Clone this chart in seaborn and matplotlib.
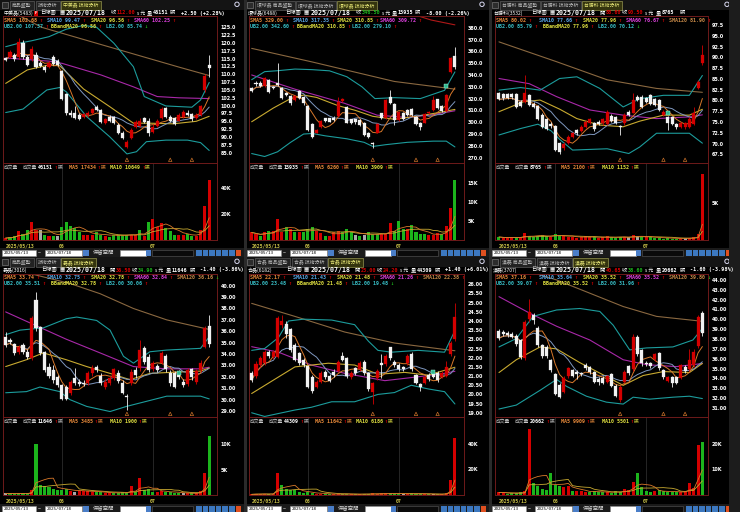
import numpy as np
import pandas as pd
import matplotlib
matplotlib.use("Agg")
import matplotlib.pyplot as plt
from matplotlib.patches import Rectangle, Circle
import seaborn as sns

sns.set_theme(style="dark")
plt.rcParams["font.family"] = ["Noto Sans CJK TC", "DejaVu Sans"]
plt.rcParams["axes.unicode_minus"] = False

CJK = ["Noto Sans CJK TC", "DejaVu Sans"]
MONO = ["DejaVu Sans Mono", "Noto Sans CJK TC"]

# ---------------- data ----------------
days = pd.bdate_range("2025-05-13", "2025-07-18").drop(pd.Timestamp("2025-05-30"))
event_idx = [28, 38, 43]

names = ["中美晶", "環球晶", "台勝科", "嘉晶", "合晶", "漢磊"]
codes = ["5483", "6488", "3532", "3016", "6182", "3707"]
open_txt = [None, None, "88.60", "36.50", "23.00", "40.65"]
close_txt = ["112.00", "346.50", "90.50", "34.90", "24.20", "38.60"]
close_up = [True, False, True, False, True, False]
vol_txt = ["46151", "15935", "8765", "11646", "44309", "20662"]
chg_txt = ["+2.50 (+2.28%)", "-8.00 (-2.26%)", "", "-1.40 (-3.86%)", "+1.40 (+6.01%)", "-1.60 (-3.98%)"]

sma5_txt = ["102.68", "329.00", "80.02", "33.74", "22.17", "37.16"]
sma10_txt = ["99.47", "317.35", "77.66", "32.75", "21.43", "35.64"]
sma20_txt = ["96.56", "310.85", "77.96", "32.78", "21.48", "35.52"]
sma60_txt = ["102.25", "309.72", "76.67", "32.84", "21.26", "35.52"]
sma120_txt = [None, None, "81.90", "36.16", "22.38", "39.80"]
sma120_up = [True, True, True, False, True, False]
ub_txt = ["107.37", "342.60", "85.79", "35.51", "23.48", "39.07"]
lb_txt = ["85.74", "279.10", "70.12", "30.06", "19.48", "31.96"]
lb_up = [False, True, False, True, False, True]
vma5_txt = ["17434", "6260", "2100", "3485", "11642", "9909"]
vma10_txt = ["10649", "3909", "1152", "1900", "6186", "5501"]

# highlighted signal bars (index, price) per panel
signal_pts = [[], [(45, 330.6)], [(39, 77.2)], [(40, 32.3)], [(42, 21.2)], []]

price_lim = [(81.7, 128.6), (265.5, 389.9), (65.5, 99.6), (28.47, 41.03), (18.77, 26.56), (30.09, 44.6)]
price_ticks = [np.arange(85, 125.1, 2.5), np.arange(270, 380.1, 10), np.arange(67.5, 97.6, 2.5),
               np.arange(29, 40.1, 1), np.arange(19, 26.01, 0.5), np.arange(31, 44.1, 1)]
price_fmt = ["%.1f", "%.1f", "%.1f", "%.2f", "%.2f", "%.2f"]
vol_max = [59600, 20400, 10300, 15300, 61000, 30400]
vol_ticks = [[20000, 40000], [5000, 10000, 15000], [5000], [5000, 10000], [20000, 40000], [10000, 20000]]

# 中美晶
p1_open = [115.1,115.6,116.2,115.6,120.1,115.6,114.8,116.2,113.7,112.4,112.4,115.4,114.3,111.1,103.6,97.8,97.8,97.0,96.3,96.9,97.6,99.5,98.6,94.6,96.5,96.3,93.8,91.4,86.9,89.6,93.3,93.5,96.0,95.2,91.7,93.5,96.0,99.1,96.5,96.0,95.2,96.5,97.8,97.2,95.9,97.0,105.0,113.0]
p1_high = [115.5,117.8,116.8,121.5,121.0,116.0,119.0,117.0,114.2,113.0,114.3,116.0,115.0,111.5,104.0,98.5,100.0,97.5,97.6,98.3,99.4,100.2,99.0,96.0,97.0,96.6,94.5,91.8,89.0,92.8,95.5,96.0,96.5,96.0,94.0,95.8,99.6,99.6,97.0,96.4,97.5,98.6,98.5,97.6,97.5,100.3,110.0,116.3]
p1_low = [114.2,115.2,114.3,115.0,115.0,112.5,114.3,112.0,112.2,110.8,112.0,113.0,112.6,101.8,97.0,96.5,95.8,95.3,96.0,96.5,97.3,98.2,94.6,94.2,94.8,94.0,91.0,89.3,86.5,89.3,93.0,93.2,94.5,90.2,91.3,93.2,95.7,96.2,94.8,93.8,95.0,96.2,96.6,95.2,95.6,96.8,104.5,109.0]
p1_close = [114.6,117.2,114.8,120.4,115.6,113.0,118.0,112.4,112.7,111.4,113.7,113.3,113.0,102.1,97.6,97.0,96.0,95.7,97.2,97.8,98.8,98.6,94.9,95.6,95.2,94.4,91.4,89.7,88.5,92.2,94.9,95.2,94.9,91.4,93.3,95.2,98.8,96.5,95.2,94.1,97.0,98.1,97.0,95.6,97.0,99.9,109.5,112.0]
p1_vol = [1500,2000,3000,7000,5000,8000,14000,8000,8000,4000,3000,3000,3000,10000,14000,11000,9000,6000,4000,4000,4000,6000,4000,3000,2000,4000,4000,4000,4000,4000,4000,8000,3000,14000,16000,10000,13000,9000,7000,4000,4000,4000,5000,3000,3000,8000,26000,46151]
p1_vdir = "rggrggrr" "wgrgwggg" "ggrrrggr" "gggggrrg" "rgrrrggg" "rrggrrrr"
p1_ub = [(0,118.8),(3,119.9),(6,120.7),(10,122.0),(14,124.4),(18,125.6),(21,125.0),(25,119.9),(29.5,112.4),(32,102.9),(37,99.9),(43,99.5),(45,101.8),(47,107.4)]
p1_lb = [(0,97.8),(4,98.9),(9.5,105.0),(12.5,105.8),(14,104.4),(18.7,96.5),(24,90.1),(28,84.6),(30.2,85.3),(32.5,88.5),(37,89.0),(42,89.0),(45,88.2),(47,85.7)]
p1_ma20 = [(0,107.1),(5,111.4),(10,113.0),(12.5,112.7),(18,105.3),(24,99.7),(29.5,94.4),(33.3,94.4),(38.7,94.2),(44,95.0),(47,96.6)]
p1_ma60 = [(0,115.2),(10,114.2),(13,113.5),(22,109.8),(29.5,106.0),(35,102.9),(40,102.5),(47,102.25)]
p1_ma120 = [(0,131.0),(8.3,125.0),(20,120.3),(30,116.3),(40,112.3),(47,109.6)]

# 環球晶
p2_open = [328.7,333.5,333.5,330.6,335.7,330.0,333.5,328.7,325.0,322.2,318.8,326.7,321.6,313.7,298.5,291.1,296.2,303.3,303.3,304.0,305.2,318.2,312.6,302.4,302.4,301.9,299.0,290.6,282.6,291.1,307.5,303.3,321.6,315.4,301.9,308.1,310.3,310.9,304.7,299.6,299.6,307.5,310.3,319.3,313.7,309.8,342.8,356.0]
p2_high = [330.0,334.5,335.0,338.0,337.0,331.0,349.8,330.0,326.0,323.0,323.0,327.5,322.5,314.5,299.5,294.5,302.0,304.0,304.0,305.0,321.7,320.5,313.5,303.0,303.0,302.5,300.0,291.5,283.5,299.5,308.0,320.0,327.2,316.0,309.5,309.0,311.0,312.0,305.5,300.5,308.0,309.5,322.0,320.0,314.5,324.0,355.0,363.4]
p2_low = [325.5,331.0,330.0,330.0,325.0,328.0,330.5,319.5,322.0,315.0,318.0,319.5,315.0,292.5,287.0,290.5,295.5,300.5,300.0,301.0,304.5,317.5,299.0,298.5,298.5,297.0,288.5,287.0,278.5,290.5,302.5,302.5,315.5,298.0,301.0,302.0,305.5,305.5,298.0,293.5,299.0,307.0,309.5,311.0,309.0,309.0,342.0,345.0]
p2_close = [326.7,332.3,330.6,337.1,325.8,329.0,331.5,320.2,323.0,316.0,322.2,320.2,316.0,293.4,287.8,293.4,301.3,301.3,300.5,301.9,317.4,319.6,299.6,299.0,300.5,297.6,289.2,287.8,282.0,298.5,303.3,318.8,316.0,301.9,308.9,302.4,306.1,306.1,298.5,295.7,306.9,309.0,318.8,311.7,309.8,323.0,354.5,346.5]
p2_vol = [2000,1500,1000,2000,2500,2500,5500,2000,3500,3000,2000,2000,2000,3000,3500,2500,1800,1000,1000,2000,2500,2000,3000,2000,1200,1000,1200,2000,1600,1500,1500,1500,4500,2500,5000,3000,3000,4000,2000,1500,1500,1400,1400,1800,1500,3600,8500,15935]
p2_vdir = "rrgrgrrr" "grgrgggr" "rgrrrggg" "wgwgggrr" "rgggrggg" "grrrgrrg"
p2_ub = [(0,336.0),(3,342.8),(6,343.6),(10,345.0),(14,344.5),(18,343.5),(22,338.5),(25.5,330.0),(28.5,320.0),(33,320.8),(39,320.0),(44.6,327.0),(47,342.6)]
p2_lb = [(0,273.5),(3,271.0),(6,275.0),(9,283.0),(12,290.0),(14,290.5),(17,288.5),(22,286.0),(26,283.0),(28,279.5),(31,281.0),(36,283.0),(42,284.0),(45,284.0),(47,279.1)]
p2_ma20 = [(0,300.4),(5,312.0),(9,320.0),(12,323.0),(15,321.0),(20,314.0),(24,310.0),(28,305.0),(33,302.5),(38,305.0),(43,308.0),(47,310.85)]
p2_ma60 = [(0,340.0),(10,328.0),(21.5,316.0),(29,306.0),(36,304.0),(42,306.5),(47,309.7)]
p2_ma120 = [(0,362.5),(14,351.0),(33,334.5),(47,328.0)]
p2_ma240 = [(38, 390.5), (41.5, 386.5), (47, 382.4)]

# 台勝科
p3_open = [81.65,81.5,81.4,81.5,81.5,79.7,79.7,81.3,79.2,78.7,76.6,75.6,74.5,74.1,70.05,68.9,70.2,71.6,73.1,73.0,73.9,74.8,74.7,75.1,74.7,74.5,76.4,76.1,74.1,74.7,77.4,77.2,80.9,80.9,80.5,81.3,80.25,80.1,76.6,76.1,76.1,74.5,73.9,73.8,73.9,74.5,83.0,88.6]
p3_high = [82.0,81.8,81.7,81.8,81.8,80.0,85.9,81.6,79.6,79.0,77.0,76.0,74.9,74.4,70.4,70.3,72.0,72.8,73.5,74.3,75.4,76.0,75.0,75.5,76.0,77.8,76.8,76.5,74.4,77.0,77.8,81.8,81.2,81.2,80.8,81.6,80.6,80.4,77.8,76.5,76.4,74.8,75.0,75.0,76.2,78.6,84.8,92.9]
p3_low = [80.0,80.2,80.3,80.4,78.3,78.4,79.4,78.7,78.2,75.5,73.6,73.2,73.7,68.2,67.6,68.6,70.0,71.3,72.0,72.7,73.6,74.5,73.0,74.2,74.4,74.3,75.0,74.5,72.0,74.4,76.3,77.0,79.8,78.3,79.4,79.0,78.7,77.5,76.3,73.2,74.2,73.5,73.6,73.5,73.6,74.2,82.6,88.3]
p3_close = [80.25,80.5,80.6,80.7,78.55,78.7,81.65,78.95,78.55,75.8,73.9,73.5,74.05,68.5,68.1,69.9,71.6,72.4,72.5,73.9,75.1,75.6,73.3,74.5,75.6,77.4,75.3,74.8,73.8,76.6,76.6,80.1,80.1,78.55,79.7,79.3,78.95,77.8,77.4,74.7,74.5,73.8,74.7,74.7,75.8,77.0,84.35,90.5]
p3_vol = [400,300,250,350,300,450,900,500,400,600,700,500,400,800,600,500,450,350,300,400,500,400,350,300,350,500,350,300,400,450,350,700,500,450,350,350,300,300,200,250,200,200,170,250,300,385,800,8765]
p3_vdir = "grrrgrrg" "ggggrggr" "rrrrrrgr" "rrgggrwr" "wgrggggg" "ggrwrrrr"
p3_ub = [(0,82.4),(5,83.0),(9.5,82.4),(14,85.1),(18,85.5),(23.3,82.8),(28.7,78.5),(32.5,80.4),(38,81.2),(44,81.2),(47,85.8)]
p3_lb = [(0,72.0),(5,73.5),(9,74.5),(12,73.0),(14,71.0),(17,68.5),(25,68.8),(30,67.7),(32.5,69.2),(36.4,72.4),(44,72.4),(47,70.1)]
p3_ma20 = [(0,77.4),(5.6,79.7),(9.5,80.1),(14,78.0),(18,75.8),(23.3,74.3),(28.7,73.9),(32.5,75.2),(38,76.6),(44,76.6),(47,77.96)]
p3_ma60 = [(0,85.1),(7,83.9),(13.3,80.9),(21,77.8),(28.7,76.6),(36.4,75.8),(44,76.2),(47,76.67)]
p3_ma120 = [(0,93.6),(13.3,89.0),(25,84.8),(36.4,82.8),(47,81.9)]

# 嘉晶
p4_open = [35.53,35.2,34.88,34.2,34.8,34.2,33.63,38.74,36.35,34.2,32.9,32.6,32.0,31.29,31.14,30.56,31.87,31.58,31.5,31.49,32.31,32.9,32.08,31.08,31.49,31.87,32.37,31.49,30.35,31.49,32.6,32.75,34.5,33.77,32.66,32.95,33.25,33.83,32.37,32.31,32.46,31.58,31.37,32.66,31.58,32.6,34.65,36.5]
p4_high = [35.9,35.4,35.0,34.8,35.0,34.4,37.3,39.48,36.5,34.3,33.2,33.0,32.2,31.4,31.3,31.7,32.75,31.8,31.7,32.5,33.0,33.05,32.3,31.8,32.1,32.8,32.6,31.7,30.5,32.7,32.9,35.2,34.7,34.0,33.4,33.1,34.3,34.0,32.6,32.5,32.6,31.8,32.8,32.8,32.7,33.5,36.5,37.45]
p4_low = [34.6,34.9,33.9,34.0,34.0,33.6,33.5,36.0,33.9,32.4,31.9,31.5,31.1,29.95,29.95,30.4,31.3,31.2,31.2,31.3,32.1,32.4,31.3,30.9,31.3,31.7,31.5,30.5,29.1,31.3,31.9,32.5,33.1,32.4,32.5,32.4,33.1,32.4,31.2,31.0,31.8,31.1,31.2,31.7,31.4,32.4,34.5,34.6]
p4_close = [34.8,35.1,34.06,34.65,34.2,33.77,37.13,36.26,34.06,32.6,32.08,31.73,31.29,30.03,30.03,31.58,31.49,31.37,31.4,32.31,32.75,32.6,31.49,31.58,31.87,32.66,31.67,30.61,30.2,32.46,32.16,34.36,33.33,32.6,33.25,32.6,34.12,32.66,31.49,31.14,32.02,31.29,32.6,31.96,32.54,33.2,36.3,34.9]
p4_vol = [300,300,200,300,300,300,1000,10000,2000,1800,1500,1200,1000,1000,1200,800,600,800,800,800,600,500,500,400,400,400,400,500,400,1800,600,3300,1000,1200,500,600,800,600,600,400,300,300,400,300,300,800,4400,11646]
p4_vdir = "wgggggrg" "gggggggr" "wrrrrggr" "rggggrgr" "gggrrggg" "gwrgrrrg"
p4_ub = [(0,35.7),(3.3,36.1),(8.7,36.3),(14,37.1),(16.4,37.25),(21,36.95),(24.1,36.1),(27.2,33.8),(29.5,33.2),(33.3,34.2),(37.2,34.35),(45,34.5),(47,35.51)]
p4_lb = [(0,30.6),(4.8,30.7),(7.9,31.1),(12.5,30.7),(14.8,30.0),(18.7,29.4),(24.1,28.95),(27.9,29.4),(31,29.7),(37.2,30.3),(45,30.3),(47,30.06)]
p4_ma20 = [(0,32.9),(4.8,33.5),(8.7,34.1),(14,33.5),(18.7,32.9),(24.1,32.3),(28.7,31.75),(33.3,32.3),(38.7,32.4),(45,32.5),(47,32.78)]
p4_ma60 = [(0,37.7),(6.4,36.6),(14,35.3),(21.8,34.1),(29.5,32.9),(37.2,32.7),(45,32.7),(47,32.84)]
p4_ma120 = [(0,41.6),(14.8,40.2),(21.8,39.3),(29.5,38.0),(37.2,37.0),(47,36.16)]

# 合晶
p5_open = [21.18,21.0,21.6,21.7,22.33,22.05,22.05,23.8,23.84,23.55,22.7,22.24,21.87,21.55,20.96,20.42,20.69,21.24,21.0,21.24,21.3,22.09,21.96,20.96,21.42,21.36,21.78,21.15,20.15,20.87,21.69,21.65,22.56,21.78,21.6,21.47,21.69,22.2,21.05,20.56,20.64,21.05,21.18,21.18,20.96,21.0,22.2,23.0]
p5_high = [21.3,21.8,22.1,22.4,22.4,22.4,24.25,24.3,24.0,23.6,22.8,22.3,22.0,21.6,21.05,20.8,21.25,21.35,21.1,21.4,21.9,22.3,22.05,21.25,21.5,21.8,21.85,21.2,20.7,21.4,22.2,22.2,22.6,21.9,21.7,21.55,22.2,22.3,21.1,20.6,21.0,21.15,21.3,21.3,21.3,21.8,22.9,24.96]
p5_low = [20.7,20.9,21.5,21.6,22.0,21.95,22.0,23.6,23.1,22.3,21.8,21.6,21.5,20.35,20.1,20.35,20.6,20.85,20.65,20.95,21.2,21.8,20.9,20.85,21.05,21.3,21.05,20.2,19.5,20.8,20.9,21.55,21.9,21.5,21.3,21.3,21.6,21.3,20.55,20.2,20.55,20.75,20.9,20.7,20.9,20.95,22.1,22.9]
p5_close = [20.78,21.65,21.96,22.33,22.1,22.33,24.15,24.0,23.3,22.4,21.87,21.7,21.6,20.42,20.2,20.69,21.15,20.96,20.75,21.05,21.78,21.87,21.0,21.15,21.15,21.69,21.15,20.27,20.6,21.29,21.6,22.09,21.96,21.6,21.36,21.36,22.09,21.36,20.64,20.38,20.93,20.82,20.96,20.78,21.18,21.47,22.8,24.2]
p5_vol = [500,800,800,1000,500,1000,17000,8000,5000,4000,4000,2000,1500,2000,1500,1000,1000,500,500,500,1000,500,1000,500,500,500,1000,1000,1200,800,1200,1500,1500,1000,1000,500,800,1200,1000,800,600,700,600,500,500,1500,11400,44309]
p5_vdir = "rrrrgrrg" "gggggggr" "rggrrggr" "grggrrrr" "gggwrggg" "rgwgrrrr"
p5_ub = [(0,22.4),(3,22.5),(6.2,23.1),(8.5,24.0),(12,24.1),(18.5,24.05),(23.8,23.8),(27,22.9),(29.2,22.4),(32.3,22.3),(38.5,22.4),(44.6,22.3),(47,23.48)]
p5_lb = [(0,19.0),(3,18.8),(10,19.15),(13.8,19.3),(18.5,19.6),(23.8,19.6),(29.2,20.0),(33,20.1),(36.9,20.5),(40.8,20.3),(44.6,20.15),(47,19.48)]
p5_ma20 = [(0,20.05),(6.2,20.95),(10,21.5),(17.7,21.7),(23.8,21.6),(29.2,21.1),(35.4,21.2),(40.8,21.05),(47,21.48)]
p5_ma60 = [(0,22.6),(6.2,22.3),(13.8,21.6),(21.5,21.15),(30.8,20.75),(38.5,20.96),(44.6,21.15),(47,21.26)]
p5_ma120 = [(0,24.96),(10,24.25),(21.5,23.4),(33,22.8),(44.6,22.45),(47,22.38)]

# 漢磊
p6_open = [38.85,38.7,38.6,38.5,38.3,37.9,36.05,40.0,40.45,39.1,37.4,37.23,35.88,34.45,33.34,32.66,34.2,34.86,34.7,34.6,35.37,35.13,34.7,33.9,34.0,33.67,34.45,33.23,31.81,33.67,35.27,34.93,38.18,36.89,35.6,35.54,35.94,36.55,34.86,33.77,34.18,34.11,34.01,35.2,34.93,35.37,37.3,40.65]
p6_high = [39.0,38.9,38.8,38.7,38.5,38.0,39.9,42.1,40.6,39.3,37.5,37.4,36.0,34.6,33.5,34.2,35.2,35.0,34.9,34.7,35.6,35.3,34.8,34.1,34.2,34.4,34.6,33.4,33.3,34.9,35.4,38.5,38.4,37.0,35.8,35.7,36.6,36.7,35.0,34.2,34.3,34.3,35.5,35.4,37.0,37.0,40.4,40.8]
p6_low = [37.9,38.3,38.2,38.1,37.3,36.0,35.9,39.7,39.5,37.2,36.1,36.1,34.7,32.3,32.0,32.5,34.0,34.1,33.9,34.3,34.9,34.5,33.5,33.3,33.4,33.5,33.1,32.1,31.6,33.5,34.4,34.8,36.3,35.3,35.3,35.1,35.8,34.9,33.9,33.6,33.1,33.4,33.9,34.6,34.8,35.2,37.1,38.3]
p6_close = [38.08,38.5,38.4,38.25,37.5,36.2,39.77,40.7,39.94,37.4,36.28,36.28,34.86,32.42,32.15,34.01,35.03,34.25,34.45,34.45,35.03,34.7,33.67,33.67,33.57,34.25,33.23,32.22,33.1,34.7,34.59,38.18,36.48,35.54,35.47,35.27,36.48,35.03,34.18,34.11,33.5,33.57,35.37,34.79,35.88,36.72,40.2,38.6]
p6_vol = [1000,1000,500,600,600,1000,1500,25600,4500,3500,2500,2000,8600,4000,3500,3000,3500,1500,1500,1500,1200,1200,1500,1000,1200,1000,800,1600,1000,2500,2000,5000,8700,3000,1500,1000,1500,2000,1500,1000,1000,1200,1300,1500,4500,2800,19500,20662]
p6_vdir = "rrggggrr" "gggggggr" "rgrrrggg" "grgggrrr" "ggggrggg" "ggrrrrrg"
p6_ub = [(0,37.2),(4,38.05),(7.9,40.3),(13.3,40.95),(18.7,41.1),(23.3,40.8),(26.4,39.4),(30.2,36.9),(34.1,37.1),(40.2,37.2),(44.8,37.9),(47,39.07)]
p6_lb = [(0,30.9),(4,31.3),(9.5,32.8),(13.3,33.9),(15.6,33.2),(20.2,32.2),(24.8,31.6),(28.7,31.4),(31,32.1),(34.8,31.9),(40.2,32.1),(44,32.2),(47,31.96)]
p6_ma20 = [(0,34.6),(4,35.9),(9.5,37.2),(13.3,37.0),(18.7,35.6),(24.8,34.2),(28.7,33.3),(33.3,34.3),(38,34.7),(44,34.6),(47,35.52)]
p6_ma60 = [(0,42.3),(7.2,40.6),(13.3,39.3),(21,37.9),(28.7,35.9),(34.1,35.4),(41,35.2),(47,35.52)]
p6_ma120 = [(0,45.8),(13.3,44.0),(21,42.65),(28.7,41.3),(36.4,40.3),(47,39.8)]

stocks = [
    dict(o=p1_open, h=p1_high, l=p1_low, c=p1_close, v=p1_vol, vd=p1_vdir, ub=p1_ub, lb=p1_lb, ma20=p1_ma20, ma60=p1_ma60, ma120=p1_ma120),
    dict(o=p2_open, h=p2_high, l=p2_low, c=p2_close, v=p2_vol, vd=p2_vdir, ub=p2_ub, lb=p2_lb, ma20=p2_ma20, ma60=p2_ma60, ma120=p2_ma120, ma240=p2_ma240),
    dict(o=p3_open, h=p3_high, l=p3_low, c=p3_close, v=p3_vol, vd=p3_vdir, ub=p3_ub, lb=p3_lb, ma20=p3_ma20, ma60=p3_ma60, ma120=p3_ma120),
    dict(o=p4_open, h=p4_high, l=p4_low, c=p4_close, v=p4_vol, vd=p4_vdir, ub=p4_ub, lb=p4_lb, ma20=p4_ma20, ma60=p4_ma60, ma120=p4_ma120),
    dict(o=p5_open, h=p5_high, l=p5_low, c=p5_close, v=p5_vol, vd=p5_vdir, ub=p5_ub, lb=p5_lb, ma20=p5_ma20, ma60=p5_ma60, ma120=p5_ma120),
    dict(o=p6_open, h=p6_high, l=p6_low, c=p6_close, v=p6_vol, vd=p6_vdir, ub=p6_ub, lb=p6_lb, ma20=p6_ma20, ma60=p6_ma60, ma120=p6_ma120),
]

# ---------------- style ----------------
RED = "#d40000"
WHT = "#f2f2f2"
GRN = "#1cb41c"
GRY = "#a8a8a8"
BORDER = "#6e1a1a"
C_BAND = "#1c9c9c"
C_MA5 = "#d8782a"
C_MA10 = "#7f98c0"
C_MA20 = "#c8aa30"
C_MA60 = "#a828a8"
C_MA120 = "#8a6840"
C_MA240 = "#b01818"
T_MA5, T_MA10, T_MA20, T_MA60, T_MA120, T_BAND = "#e88a3a", "#5aa8e8", "#e0e040", "#e040e0", "#c88a48", "#38c0c8"
VCOL = {"r": RED, "g": GRN, "w": GRY}

W, H = 740, 512
col_x0 = [0, 245, 490]
box_l = [3, 249, 495]
box_r = [217, 464, 708]
xlims = [(-0.62, 48.8), (-0.62, 49.1), (-0.92, 48.3)]
row_y0 = [0, 257]
pbox = [(16, 163), (274, 417)]
vbox = [(163, 240), (417, 495)]
tool_y = [248, 504]

fig = plt.figure(figsize=(7.4, 5.12), dpi=100, facecolor="black")
bg = fig.add_axes([0, 0, 1, 1], zorder=-5)
bg.set_xlim(0, W); bg.set_ylim(H, 0); bg.axis("off")
fg = fig.add_axes([0, 0, 1, 1], zorder=20)
fg.set_xlim(0, W); fg.set_ylim(H, 0); fg.axis("off")


def px_axes(x0, y0, x1, y1):
    a = fig.add_axes([x0 / W, 1 - y1 / H, (x1 - x0) / W, (y1 - y0) / H])
    a.set_facecolor("black")
    a.grid(False)
    for s in a.spines.values():
        s.set_color(BORDER)
        s.set_linewidth(0.7)
    return a


def txt(x, y, s, color="white", size=3.7, fam=CJK, weight="normal", ha="left"):
    fg.text(x, y, s, color=color, fontsize=size, family=fam, fontweight=weight, ha=ha, va="center")


def rect(x, y, w, h, fc, ec="none", lw=0.5):
    bg.add_patch(Rectangle((x, y), w, h, facecolor=fc, edgecolor=ec, linewidth=lw))


def kp_line(ax, pts, color, lw=0.8):
    xs = [p[0] for p in pts]
    ys = [p[1] for p in pts]
    sns.lineplot(x=xs, y=ys, ax=ax, color=color, linewidth=lw, legend=False, estimator=None, zorder=2)


def legend_item(x, y, label, val, color, up=True):
    s = f"{label} {val}"
    txt(x, y, s, color, 3.6, MONO, "bold")
    txt(x + len(s) * 3.1 + 1, y, "↑" if up else "↓", RED if up else GRN, 3.6, MONO, "bold")


x = np.arange(48)
tick_idx = [0] + [i for i in range(1, len(days)) if days[i].month != days[i - 1].month]
tick_lab = [days[0].strftime("%Y/%m/%d")] + [days[i].strftime("%m") for i in tick_idx[1:]]

for k, st in enumerate(stocks):
    r, ci = divmod(k, 3)
    x0, y0 = col_x0[ci], row_y0[r]
    bl, br = box_l[ci], box_r[ci]
    pt, pb = pbox[r]
    vt, vb = vbox[r]
    o, h, l, c = (np.array(st[key]) for key in ("o", "h", "l", "c"))
    lo, hi = price_lim[k]

    # ---- price panel ----
    ax = px_axes(bl, pt, br, pb)
    if "ma240" in st:
        kp_line(ax, st["ma240"], C_MA240)
    kp_line(ax, st["ma120"], C_MA120)
    kp_line(ax, st["ma60"], C_MA60)
    kp_line(ax, st["ub"], C_BAND)
    kp_line(ax, st["lb"], C_BAND)
    kp_line(ax, st["ma20"], C_MA20)
    cs = pd.Series(c)
    sns.lineplot(x=x, y=cs.rolling(10, min_periods=1).mean().values, ax=ax, color=C_MA10, linewidth=0.7, zorder=2)
    sns.lineplot(x=x, y=cs.rolling(5, min_periods=1).mean().values, ax=ax, color=C_MA5, linewidth=0.7, zorder=2)
    up = c >= o
    cc = np.where(up, RED, WHT)
    ax.vlines(x, l, h, colors=cc, linewidth=0.6, zorder=3)
    body = np.maximum(np.abs(c - o), (hi - lo) * 0.006)
    ax.bar(x, body, bottom=np.minimum(o, c), width=0.7, color=cc, edgecolor=cc, linewidth=0.2, zorder=4)
    if signal_pts[k]:
        sx, sy = zip(*signal_pts[k])
        ax.scatter(sx, sy, marker="s", s=7, color="#2fb890", edgecolors="#b0ffe0", linewidths=0.3, zorder=6)
    ax.scatter(event_idx, [lo + (hi - lo) * 0.022] * len(event_idx), marker="^", s=6,
               facecolors="none", edgecolors="#c87028", linewidths=0.5, zorder=5)
    ax.set_xlim(*xlims[ci])
    ax.set_ylim(lo, hi)
    ax.set_xticks([])
    ax.yaxis.tick_right()
    ticks = price_ticks[k]
    ax.set_yticks(ticks)
    ax.set_yticklabels([price_fmt[k] % t for t in ticks], fontsize=3.5, color="white",
                       fontweight="bold", family="DejaVu Sans")
    ax.tick_params(axis="y", length=0, pad=2.5)
    ax.set_xlabel(""); ax.set_ylabel("")

    # ---- volume panel ----
    av = px_axes(bl, vt, br, vb)
    for t in tick_idx[1:]:
        av.axvline(t, color="#343434", linewidth=0.5, zorder=1)
    vol = np.array(st["v"], dtype=float)
    av.bar(x, vol, width=0.7, color=[VCOL[d] for d in st["vd"]], linewidth=0, zorder=3)
    vs = pd.Series(vol)
    sns.lineplot(x=x, y=vs.rolling(10, min_periods=1).mean().values, ax=av, color=C_MA20, linewidth=0.6, zorder=4)
    sns.lineplot(x=x, y=vs.rolling(5, min_periods=1).mean().values, ax=av, color=C_MA5, linewidth=0.6, zorder=4)
    av.set_xlim(*xlims[ci])
    av.set_ylim(0, vol_max[k])
    av.yaxis.tick_right()
    av.set_yticks(vol_ticks[k])
    av.set_yticklabels([f"{int(t / 1000)}K" for t in vol_ticks[k]], fontsize=3.5, color="white",
                       fontweight="bold", family="DejaVu Sans")
    av.tick_params(axis="y", length=0, pad=2.5)
    av.set_xticks(tick_idx)
    labs = av.set_xticklabels(tick_lab, fontsize=3.5, color="#c8c048", family="DejaVu Sans Mono", fontweight="bold")
    labs[0].set_ha("left")
    av.tick_params(axis="x", length=2, width=0.5, color="#909090", pad=0.8)
    av.set_xlabel(""); av.set_ylabel("")

    # ---- tab bar ----
    rect(x0, y0, 245, 10, "#141414")
    rect(x0 + 2, y0 + 2, 6, 6, "#2c2c2c", "#8a8a8a", 0.4)
    if k in (0, 3):
        tabs = ["商品盤勢", "技術分析", f"{names[k]} 技術分析"]
    else:
        tabs = [f"{names[k]} 商品盤勢", f"{names[k]} 技術分析", f"{names[k]} 技術分析"]
    tx = x0 + 10
    for j, lab in enumerate(tabs):
        w = 4.5 * len(lab.replace(" ", "")) + 2 * lab.count(" ") + 6
        act = j == len(tabs) - 1
        rect(tx, y0 + 1, w, 8.5, "#34340e" if act else "#222222", "#b0b060" if act else "#6a6a6a", 0.4)
        txt(tx + w / 2, y0 + 5.3, lab, "#e8e878" if act else "#b8b8b8", 3.5, ha="center")
        tx += w + 1.5
    bg.add_patch(Circle((x0 + 237, y0 + 4.3), 2.2, facecolor="none", edgecolor="#d8d8f0", linewidth=0.7))

    # ---- info line ----
    yy = y0 + 13
    txt(x0 + 3, yy, f"{names[k]}({codes[k]})", "white", 3.6)
    if k == 0:
        rect(x0 + 34, yy - 2.5, 4, 5, RED)
        txt(x0 + 36, yy, "F", "white", 3, MONO, "bold", ha="center")
    price_col = RED if close_up[k] else GRN
    if open_txt[k] is None:
        P = dict(day=40, date=66, shou=111, close=117, yuan=137, liang=147, vol=153, zhang=170, chg=181)
    else:
        P = dict(day=41, date=66, kai=110, open=116, shou=132, close=138, yuan=155, liang=166, vol=172, zhang=190, chg=200)
    txt(x0 + P["day"], yy, "日線圖", "white", 3.8)
    txt(x0 + P["date"] - 7, yy, "▦", "white", 4, ["DejaVu Sans"])
    txt(x0 + P["date"], yy, "2025/07/18", "white", 4.8, MONO, "bold")
    if open_txt[k] is not None:
        txt(x0 + P["kai"], yy, "開", "white", 3.8)
        txt(x0 + P["open"], yy, open_txt[k], RED, 3.7, MONO, "bold")
    txt(x0 + P["shou"], yy, "收", "white", 3.8)
    txt(x0 + P["close"], yy, close_txt[k], price_col, 3.7, MONO, "bold")
    txt(x0 + P["yuan"], yy, "s 元", "white", 3.5)
    txt(x0 + P["liang"], yy, "量", "white", 3.8)
    txt(x0 + P["vol"], yy, vol_txt[k], "white", 3.7, MONO, "bold")
    txt(x0 + P["zhang"], yy, "張", "white", 3.8)
    txt(x0 + P["chg"], yy, chg_txt[k], "white", 3.7, MONO, "bold")

    # ---- indicator legend ----
    l1, l2 = y0 + 20.5, y0 + 26.8
    legend_item(bl + 1, l1, "SMA5", sma5_txt[k], T_MA5)
    legend_item(bl + 44, l1, "SMA10", sma10_txt[k], T_MA10)
    legend_item(bl + 88, l1, "SMA20", sma20_txt[k], T_MA20)
    legend_item(bl + 131, l1, "SMA60", sma60_txt[k], T_MA60)
    if sma120_txt[k] is not None:
        legend_item(bl + 174, l1, "SMA120", sma120_txt[k], T_MA120, sma120_up[k])
    legend_item(bl + 1, l2, "UB2.00", ub_txt[k], T_BAND)
    legend_item(bl + 48, l2, "BBandMA20", sma20_txt[k], T_MA20)
    legend_item(bl + 103, l2, "LB2.00", lb_txt[k], T_BAND, lb_up[k])

    # ---- volume header ----
    vy = vt + 4.5
    txt(bl + 1, vy, "成交量", "#c8c8c8", 3.4)
    txt(bl + 20, vy, "成交量", "#c8c8c8", 3.4)
    txt(bl + 35, vy, vol_txt[k], "white", 3.6, MONO, "bold")
    txt(bl + 36 + len(vol_txt[k]) * 3.1, vy, "↑", RED, 3.4, MONO, "bold")
    txt(bl + 39 + len(vol_txt[k]) * 3.1, vy, "張", "#c8c8c8", 3.4)
    s5 = f"MA5 {vma5_txt[k]}"
    txt(bl + 66, vy, s5, T_MA5, 3.6, MONO, "bold")
    txt(bl + 67 + len(s5) * 3.1, vy, "↑", RED, 3.4, MONO, "bold")
    txt(bl + 70 + len(s5) * 3.1, vy, "張", T_MA5, 3.4)
    s10 = f"MA10 {vma10_txt[k]}"
    txt(bl + 107, vy, s10, T_MA20, 3.6, MONO, "bold")
    txt(bl + 108 + len(s10) * 3.1, vy, "↑", RED, 3.4, MONO, "bold")
    txt(bl + 111 + len(s10) * 3.1, vy, "張", T_MA20, 3.4)

    # ---- bottom toolbar ----
    ty = tool_y[r]
    rect(x0, ty, 245, 9, "#1a1a1a")
    rect(x0 + 2, ty + 1.5, 34, 6.5, "white", "#909090", 0.4)
    txt(x0 + 3.5, ty + 4.8, "2025/05/13", "black", 3.1, MONO)
    txt(x0 + 37.5, ty + 4.8, "~", "white", 3.5, MONO)
    rect(x0 + 45, ty + 1.5, 37, 6.5, "white", "#909090", 0.4)
    txt(x0 + 46.5, ty + 4.8, "2025/07/18", "black", 3.1, MONO)
    rect(x0 + 83, ty + 1.5, 6, 6.5, "#4a7ec8")
    txt(x0 + 93, ty + 4.8, "保留空間", "#d8d8d8", 3.9)
    rect(x0 + 120, ty + 1.5, 26, 6.5, "white", "#909090", 0.4)
    rect(x0 + 146, ty + 1.5, 5, 6.5, "#4a7ec8")
    rect(x0 + 152, ty + 1.5, 41, 6.5, "#0a0a0a", "#5a5a5a", 0.4)
    for j in range(7):
        rect(x0 + 196 + j * 6.6, ty + 1.5, 5.6, 6.5, "#3c78c0" if j < 6 else "#e05020")

# panel separators
for sx in (244, 489):
    rect(sx, 0, 2.5, H, "#2a2a2a")
rect(729, 0, 11, H, "#1c1c1c")

fig.savefig("out.png", dpi=100, facecolor="black")
